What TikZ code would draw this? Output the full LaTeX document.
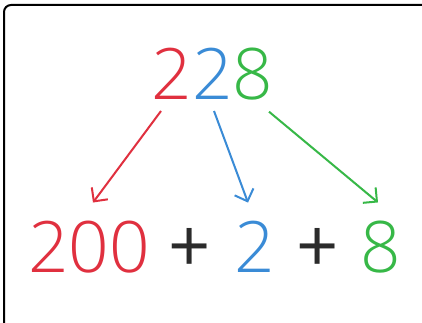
\documentclass[tikz,border=0pt]{standalone}
\usepackage{fontspec}
\setmainfont{Open Sans Light}
\newfontfamily\plusfont{Open Sans}
\usetikzlibrary{arrows.meta}
\definecolor{digred}{HTML}{E0303F}
\definecolor{digblue}{HTML}{3A8BD6}
\definecolor{diggreen}{HTML}{37B847}
\definecolor{plusgray}{HTML}{2B2B2B}
\tikzset{
  digit/.style={inner sep=0pt, outer sep=0pt, anchor=base, font=\fontsize{71}{71}\selectfont},
  plussign/.style={digit, plusgray, font=\plusfont\fontsize{74}{74}\selectfont},
  split/.style={line width=2pt, -{Straight Barb[length=10pt,width=20pt]}},
}
\begin{document}
\begin{tikzpicture}[x=1pt,y=1pt]
  \clip (0,0) rectangle (422,322);
  \fill[white] (0,0) rectangle (422,322);
  \draw[line width=2pt, rounded corners=7pt] (4,-10) -- (4,317) -- (440,317);

  % the number
  \node[digit, digred] (hund) at (172,223) {2};
  \node[digit, digblue] (tens) at (213,223) {2};
  \node[digit, diggreen] (ones) at (253,223) {8};

  % expanded form
  \node[digit, digred] (h200) at (89,50) {200};
  \node[plussign] (plusa) at (190,50) {+};
  \node[digit, digblue] (t2) at (255,50) {2};
  \node[plussign] (plusb) at (318,50) {+};
  \node[digit, diggreen] (o8) at (381,50) {8};

  \draw[split, digred] ([xshift=-11pt,yshift=-12pt]hund.south) -- ([xshift=4pt,yshift=18pt]h200.north);
  \draw[split, digblue] ([xshift=1pt,yshift=-12pt]tens.south) -- ([xshift=-7pt,yshift=18pt]t2.north);
  \draw[split, diggreen] ([xshift=16pt,yshift=-12pt]ones.south) -- ([xshift=-3pt,yshift=18pt]o8.north);
\end{tikzpicture}
\end{document}
